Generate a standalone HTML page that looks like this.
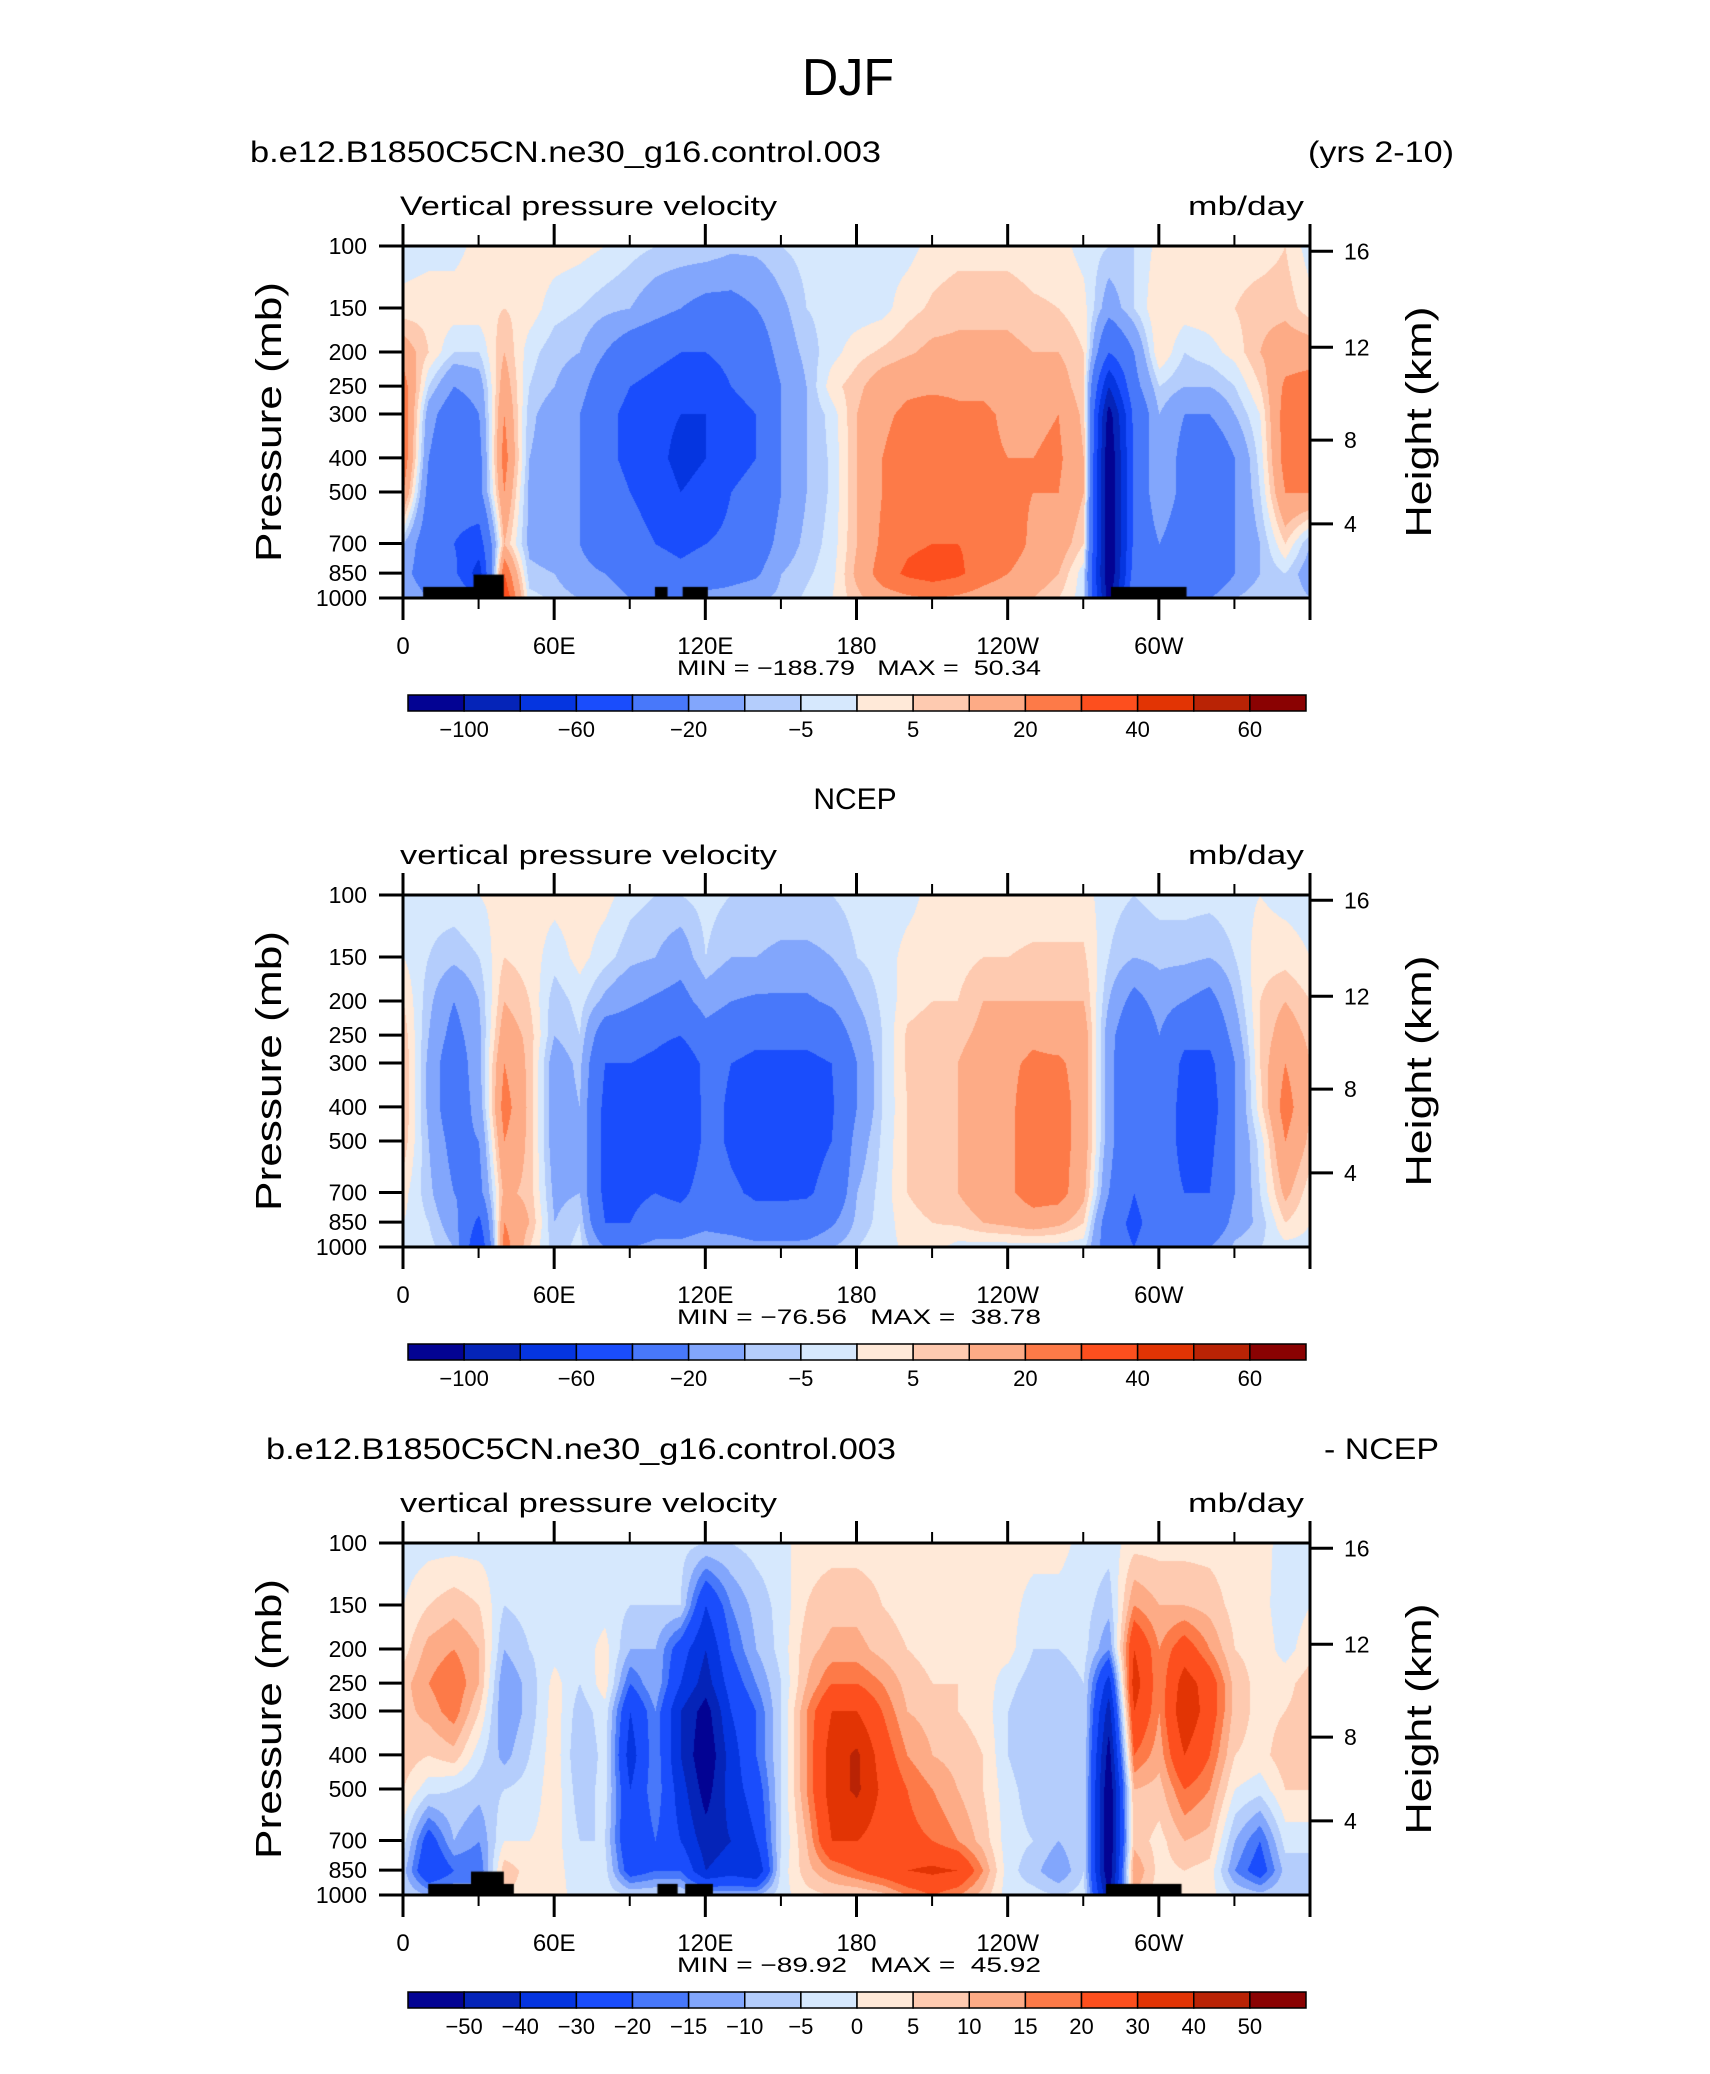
<!DOCTYPE html>
<html><head><meta charset="utf-8">
<style>
html,body{margin:0;padding:0;background:#fff;}
#root{position:relative;width:1710px;height:2074px;overflow:hidden;background:#fff;}
canvas{position:absolute;}
svg{position:absolute;left:0;top:0;}
text{font-family:"Liberation Sans",sans-serif;fill:#000;white-space:pre;}
</style></head>
<body>
<div id="root">
<canvas id="c0" width="907" height="352" style="left:403px;top:246px"></canvas>
<canvas id="c1" width="907" height="352" style="left:403px;top:895px"></canvas>
<canvas id="c2" width="907" height="352" style="left:403px;top:1543px"></canvas>
<svg id="ov" width="1710" height="2074"></svg>
</div>
<script>
// ---- data ----
const lons = [0,10,20,30,40,50,60,70,80,90,100,110,120,130,140,150,160,170,180,190,200,210,220,230,240,250,260,270,280,290,300,310,320,330,340,350,360];
const levels = [100,150,200,250,300,400,500,700,850,1000];
const modelField = [
[-3,2,15,25,28,28,20,-10,-15,-10],[-2,3,5,-5,-15,-20,-25,-30,-30,-20],[-2,3,-5,-20,-30,-35,-30,-40,-35,-20],
[2,3,-5,-15,-20,-25,-25,-50,-70,-40],[3,5,10,15,20,25,20,10,30,40],[3,3,-3,-5,-8,-10,-12,-12,-8,-3],
[3,-3,-8,-10,-15,-15,-15,-15,-10,-6],[2,-5,-10,-15,-20,-20,-20,-20,-18,-10],[0,-8,-20,-30,-35,-35,-30,-25,-20,-15],
[-3,-10,-30,-40,-45,-45,-40,-30,-25,-20],[-5,-15,-35,-45,-55,-55,-50,-40,-30,-20],[-5,-20,-40,-50,-60,-65,-60,-45,-35,-20],
[-5,-25,-40,-50,-60,-60,-55,-40,-30,-15],[-8,-25,-35,-40,-45,-45,-40,-35,-25,-15],[-8,-20,-30,-35,-40,-40,-35,-30,-22,-12],
[-5,-12,-15,-20,-20,-20,-20,-15,-10,-8],[-3,-5,-8,-10,-10,-10,-10,-8,-6,-4],[-2,-3,-2,3,-3,-4,-4,-3,-2,0],
[-2,-3,3,8,10,10,10,10,12,8],[-2,-2,6,15,18,20,20,22,25,15],[-2,3,9,18,22,25,25,28,32,18],
[2,6,12,18,25,28,30,30,35,20],[3,8,12,18,22,25,28,30,32,18],[3,8,12,18,22,22,25,28,25,15],
[3,8,12,15,18,20,22,25,20,12],[2,6,10,15,18,20,20,18,15,10],[2,5,10,15,20,22,20,15,10,5],
[-2,2,5,5,8,10,10,5,-3,-3],[-5,-15,-40,-80,-110,-120,-120,-120,-120,-110],[-5,-5,-20,-25,-35,-35,-35,-35,-30,-20],
[2,5,5,-5,-10,-10,-10,-20,-25,-20],[2,3,-5,-10,-20,-25,-25,-30,-30,-25],[2,3,-2,-10,-20,-35,-35,-30,-35,-20],
[2,5,2,-5,-10,-20,-20,-20,-20,-10],[2,8,10,5,0,-3,-5,-10,-10,-5],[5,8,15,22,25,25,20,5,-5,-5],
[-3,2,15,25,28,28,20,-10,-15,-10]];
const ncepField = [
[-3,0,5,8,10,10,8,2,0,-2],[-3,-5,-8,-10,-12,-12,-10,-8,-5,-3],[-2,-8,-20,-25,-30,-30,-25,-20,-15,-10],
[0,-5,-10,-12,-12,-15,-20,-25,-45,-60],[2,5,10,15,20,25,20,12,20,25],[2,3,5,8,8,8,8,8,10,5],
[2,-3,-8,-10,-15,-15,-15,-12,-10,-8],[3,2,-3,-5,-8,-10,-10,-10,-5,-3],[2,-3,-12,-30,-40,-45,-45,-45,-40,-20],
[-3,-8,-18,-30,-40,-45,-45,-45,-40,-20],[-5,-10,-22,-35,-45,-50,-45,-40,-30,-15],[-5,-15,-25,-40,-55,-60,-60,-45,-30,-15],
[-3,-5,-15,-25,-35,-35,-35,-30,-25,-10],[-5,-10,-20,-30,-40,-42,-42,-38,-30,-10],[-5,-10,-22,-35,-45,-45,-45,-42,-35,-15],
[-5,-12,-22,-35,-45,-45,-45,-42,-35,-15],[-5,-12,-22,-35,-45,-45,-45,-42,-32,-15],[-5,-10,-18,-30,-40,-42,-40,-35,-22,-10],
[-3,-5,-10,-15,-20,-20,-15,-10,-8,-5],[-3,-3,-4,-5,-5,-5,-4,-3,-3,-2],[-2,2,3,6,6,5,5,5,3,1],
[2,3,5,8,8,8,8,8,5,2],[2,3,5,8,10,10,10,10,6,-2],[2,5,10,12,15,15,15,15,10,-3],
[2,5,10,15,18,18,18,18,12,-3],[2,6,10,18,22,25,25,25,15,-3],[2,6,10,15,22,25,25,25,12,-3],
[2,6,10,15,15,15,15,12,5,-3],[-3,-5,-10,-15,-15,-15,-15,-20,-30,-30],[-5,-10,-25,-35,-40,-40,-40,-40,-45,-40],
[-3,-8,-15,-20,-20,-20,-20,-25,-30,-25],[-3,-8,-20,-35,-45,-50,-50,-40,-35,-20],[-3,-10,-25,-35,-45,-50,-45,-40,-35,-20],
[-2,-5,-10,-15,-20,-20,-20,-20,-15,-8],[0,3,5,5,5,3,-3,-5,-8,-5],[-2,3,10,15,20,25,20,12,5,-2],
[-3,0,5,8,10,10,8,2,0,-2]];
const diffField = [
[-3,0,3,8,8,8,5,-3,-8,-5],[-2,5,12,15,12,5,-3,-25,-30,-10],[-2,8,15,20,18,8,-5,-10,-20,-10],
[-2,5,10,10,5,-3,-8,-15,-20,-10],[-2,-5,-10,-15,-15,-12,-5,0,8,5],[-2,-3,-5,-8,-8,-5,-3,0,3,3],
[-2,-2,-2,2,3,3,3,2,2,2],[-2,-3,-3,-5,-8,-10,-8,-5,-3,-2],[-2,-2,2,3,-2,-3,-3,-5,-3,-2],
[-3,-5,-10,-20,-30,-35,-30,-30,-25,-5],[-2,-5,-10,-10,-15,-15,-15,-20,-20,-5],[-3,-5,-25,-30,-40,-40,-35,-30,-20,-5],
[-5,-30,-40,-45,-55,-60,-55,-45,-40,-10],[-5,-15,-20,-25,-30,-35,-35,-40,-35,-10],[-3,-8,-10,-15,-20,-20,-25,-30,-40,-10],
[-2,-3,-3,-5,-5,-5,-5,-5,-3,-2],[3,5,8,10,15,15,15,10,8,3],[3,8,12,20,30,35,35,30,15,5],
[3,8,12,20,30,42,42,30,20,5],[3,5,8,15,20,25,28,25,25,8],[2,3,5,8,10,15,20,22,30,15],
[2,3,3,5,8,10,15,20,32,20],[2,3,3,5,5,8,10,15,30,15],[2,2,2,3,3,5,5,8,15,8],
[2,2,2,-3,-5,-5,-3,-3,-3,-3],[2,-2,-5,-8,-10,-10,-8,-5,-8,-3],[2,-2,-5,-8,-10,-10,-8,-10,-15,-5],
[-2,-3,-3,-5,-5,-5,-5,-5,-5,-3],[-3,-8,-15,-35,-45,-55,-60,-60,-60,-50],[3,15,30,35,30,20,10,8,15,10],
[3,10,15,15,15,12,8,3,3,2],[3,10,25,35,38,30,20,10,5,3],[3,8,15,25,25,20,15,8,3,2],
[2,3,5,8,8,5,0,-10,-15,-5],[2,2,3,3,3,3,-3,-20,-25,-8],[-2,-3,-2,3,5,8,5,-3,-8,-5],
[-3,0,3,8,8,8,5,-3,-8,-5]];
const levelsAbs = [-100,-80,-60,-40,-20,-10,-5,0,5,10,20,30,40,50,60];
const levelsDiff = [-50,-40,-30,-20,-15,-10,-5,0,5,10,15,20,30,40,50];
const labelsAbs = ["-100","","-60","","-20","","-5","","5","","20","","40","","60"];
const labelsDiff = ["-50","-40","-30","-20","-15","-10","-5","0","5","10","15","20","30","40","50"];
const colors = ["#030393","#0524b8","#0535e0","#1a4dfc","#4878fa","#82a6fc","#b4cdfc","#d6e8fd","#ffe9d8","#fecab0","#fdab86","#fd7a48","#fd4f1e","#e23404","#b92305","#8a0202"];
const pTicks = [100,150,200,250,300,400,500,700,850,1000];
const hTickLabels = ["16","12","8","4"];
const hTickPressures = [103.5,194,356,616];
const lonTickLabels = ["0","60E","120E","180","120W","60W"];
const lonMajor = [0,60,120,180,240,300,360];
const lonMinor = [30,90,150,210,270,330];
const terrainModel = [[8,35,930],[28,40,858],[100,105,930],[111,121,930],[281,311,930]];
const terrainDiff = [[10,44,930],[27,40,858],[101,109,930],[112,123,930],[279,309,930]];
const minMax = [["-188.79","50.34"],["-76.56","38.78"],["-89.92","45.92"]];

// ---- axes ----
const PX=403, PW=907, PH=352;
const panelTop=[246,895,1543];
function xOf(lon){return lon/360*PW;}
function yOf(p){return Math.log10(p/100)*PH;}
function colorFor(v,lv){let i=0;while(i<lv.length&&v>=lv[i])i++;return colors[i];}
function sample(field,lon,lp){
  let fi=lon/10; let i=Math.min(Math.floor(fi),lons.length-2); let fx=fi-i;
  const ll=levels.map(p=>Math.log10(p));
  let j=0; while(j<ll.length-2&&lp>ll[j+1])j++;
  let fy=(lp-ll[j])/(ll[j+1]-ll[j]); fy=Math.max(0,Math.min(1,fy));
  const a=field[i][j],b=field[i+1][j],c=field[i][j+1],d=field[i+1][j+1];
  return (a*(1-fx)+b*fx)*(1-fy)+(c*(1-fx)+d*fx)*fy;
}
function hexRGB(h){return [parseInt(h.substr(1,2),16),parseInt(h.substr(3,2),16),parseInt(h.substr(5,2),16)];}
function drawField(id,field,lv,terrain){
  const cv=document.getElementById(id),ctx=cv.getContext('2d');
  const img=ctx.createImageData(PW,PH);
  for(let y=0;y<PH;y++){const lp=2+y/PH;
    for(let x=0;x<PW;x++){const v=sample(field,x/PW*360,lp);
      const c=hexRGB(colorFor(v,lv));const k=(y*PW+x)*4;
      img.data[k]=c[0];img.data[k+1]=c[1];img.data[k+2]=c[2];img.data[k+3]=255;}}
  ctx.putImageData(img,0,0);
  if(terrain){ctx.fillStyle="#000";terrain.forEach(t=>{const y0=yOf(t[2]);ctx.fillRect(xOf(t[0]),y0,xOf(t[1])-xOf(t[0]),PH-y0);});}
}
drawField('c0',modelField,levelsAbs,terrainModel);
drawField('c1',ncepField,levelsAbs,null);
drawField('c2',diffField,levelsDiff,terrainDiff);

// ---- svg annotations ----
const NS="http://www.w3.org/2000/svg", ov=document.getElementById('ov');
function el(tag,attrs,txt){const e=document.createElementNS(NS,tag);for(const k in attrs)e.setAttribute(k,attrs[k]);if(txt!==undefined)e.textContent=txt;ov.appendChild(e);return e;}
let t;
t=el('text',{x:848,y:95,'font-size':52,'text-anchor':'middle',textLength:92,lengthAdjust:'spacingAndGlyphs','font-weight':'100'},'DJF');


const titles=[["b.e12.B1850C5CN.ne30_g16.control.003",250,631,"(yrs 2-10)",1308,146],["",0,0,"",0,0],["b.e12.B1850C5CN.ne30_g16.control.003",266,630,"- NCEP",1324,115]];
const subt=["Vertical pressure velocity","vertical pressure velocity","vertical pressure velocity"];
for(let k=0;k<3;k++){
  const T=panelTop[k], B=T+PH;
  if(k===1){t=el('text',{x:855,y:T-86,'font-size':30,'text-anchor':'middle'},'NCEP');
    
    }
  else{t=el('text',{x:titles[k][1],y:T-84,'font-size':30,textLength:titles[k][2],lengthAdjust:'spacingAndGlyphs'},titles[k][0]);
    
    
    t=el('text',{x:titles[k][4],y:T-84,'font-size':30,textLength:titles[k][5],lengthAdjust:'spacingAndGlyphs'},titles[k][3]);
    
    }
  t=el('text',{x:400,y:T-31,'font-size':27,textLength:377,lengthAdjust:'spacingAndGlyphs'},subt[k]);
  
  
  t=el('text',{x:1188,y:T-31,'font-size':27,textLength:116,lengthAdjust:'spacingAndGlyphs'},'mb/day');
  
  
  t=el('rect',{x:PX,y:T,width:PW,height:PH,fill:'none',stroke:'#000','stroke-width':3});
  
  
  lonMajor.forEach(l=>{const x=PX+xOf(l);
    t=el('line',{x1:x,y1:B,x2:x,y2:B+22,stroke:'#000','stroke-width':3});
    
    
    t=el('line',{x1:x,y1:T,x2:x,y2:T-22,stroke:'#000','stroke-width':3});
    
    });
  lonMinor.forEach(l=>{const x=PX+xOf(l);
    t=el('line',{x1:x,y1:B,x2:x,y2:B+11,stroke:'#000','stroke-width':2});
    
    
    t=el('line',{x1:x,y1:T,x2:x,y2:T-11,stroke:'#000','stroke-width':2});
    
    });
  lonTickLabels.forEach((s,i)=>{t=el('text',{x:PX+xOf(lonMajor[i]),y:B+56,'font-size':24,'text-anchor':'middle'},s);
    
    });
  t=el('text',{x:859,y:B+77,'font-size':21,'text-anchor':'middle',textLength:364,lengthAdjust:'spacingAndGlyphs'},'MIN = '+minMax[k][0].replace('-','\u2212')+'   MAX =  '+minMax[k][1]);
  
  
  pTicks.forEach(p=>{const y=T+yOf(p);
    t=el('line',{x1:379,y1:y,x2:PX,y2:y,stroke:'#000','stroke-width':3});
    
    
    t=el('text',{x:367,y:y+8,'font-size':23,'text-anchor':'end'},String(p));
    
    });
  t=el('text',{x:0,y:0,'font-size':36,'text-anchor':'middle',textLength:280,lengthAdjust:'spacingAndGlyphs',transform:`translate(281,${T+176}) rotate(-90)`},'Pressure (mb)');
  
  
  hTickPressures.forEach((p,i)=>{const y=T+yOf(p);
    t=el('line',{x1:PX+PW,y1:y,x2:PX+PW+23,y2:y,stroke:'#000','stroke-width':3});
    
    
    t=el('text',{x:1344,y:y+8,'font-size':23},hTickLabels[i]);
    
    });
  t=el('text',{x:0,y:0,'font-size':36,'text-anchor':'middle',textLength:231,lengthAdjust:'spacingAndGlyphs',transform:`translate(1431,${T+176}) rotate(-90)`},'Height (km)');
  
  
  const cbL=408,cbR=1306,cbT=B+97,cbH=16,bw=(cbR-cbL)/16;
  const lv=(k===2)?levelsDiff:levelsAbs, lab=(k===2)?labelsDiff:labelsAbs;
  colors.forEach((c,i)=>{t=el('rect',{x:cbL+i*bw,y:cbT,width:bw,height:cbH,fill:c,stroke:'#000','stroke-width':1.5});
    
    });
  lv.forEach((v,i)=>{if(lab[i]==="")return;
    t=el('text',{x:cbL+(i+1)*bw,y:cbT+42,'font-size':22,'text-anchor':'middle'},lab[i].replace('-','\u2212'));
    
    });
}
</script>
</body></html>
